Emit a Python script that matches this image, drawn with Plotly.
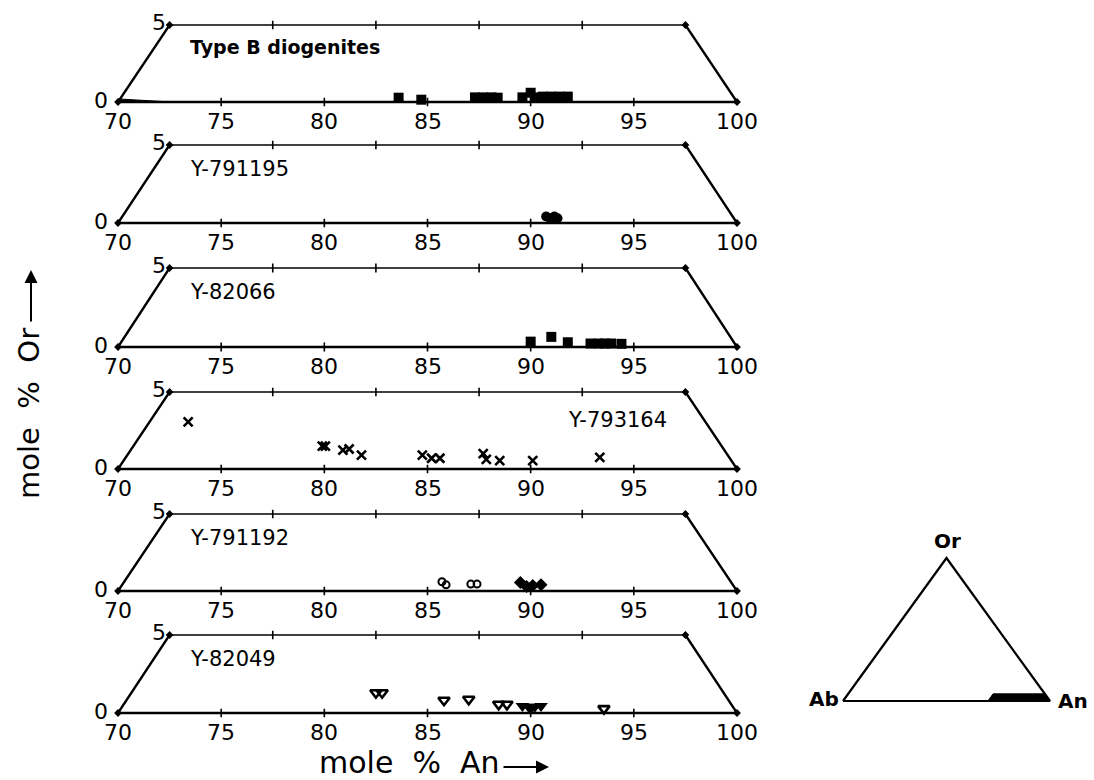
import plotly.graph_objects as go

W, H = 1094, 780
FONT = "DejaVu Sans"

# Axis tick values (mole % An along the base, mole % Or up the side)
an_ticks = [70, 75, 80, 85, 90, 95, 100]
top_ticks = [77.5, 82.5, 87.5, 92.5]
or_labels = [0, 5]

# Outline of the An-rich corner of the Ab-An-Or triangle (horizontal position, Or)
frame_an = [70, 72.5, 97.5, 100, 70]
frame_or = [0, 5, 5, 0, 0]

panel_names = ["Type B diogenites", "Y-791195", "Y-82066", "Y-793164", "Y-791192", "Y-82049"]

# Type B diogenites (filled squares)
typeB_an = [83.6, 84.7, 87.3, 87.7, 88.1, 88.4, 89.6, 90.0, 90.2, 90.6, 91.0, 91.4, 91.8]
typeB_or = [0.28, 0.15, 0.30, 0.30, 0.30, 0.28, 0.30, 0.60, 0.30, 0.35, 0.35, 0.35, 0.35]
typeB_wedge_an = [70, 72.6, 70, 70]
typeB_wedge_or = [0, 0, 0.2, 0]

# Y-791195 (filled circles)
y791195_an = [90.75, 91.15, 90.95, 91.3]
y791195_or = [0.42, 0.42, 0.30, 0.30]

# Y-82066 (filled squares)
y82066_an = [90.0, 91.0, 91.8, 92.9, 93.3, 93.6, 93.9, 94.4]
y82066_or = [0.34, 0.64, 0.30, 0.22, 0.22, 0.22, 0.22, 0.20]

# Y-793164 (crosses)
y793164_an = [73.4, 79.9, 80.05, 80.9, 81.2, 81.8, 84.75, 85.2, 85.6, 87.7, 87.85, 88.5, 90.1, 93.35]
y793164_or = [3.06, 1.49, 1.49, 1.23, 1.30, 0.90, 0.90, 0.70, 0.70, 1.00, 0.63, 0.54, 0.54, 0.75]

# Y-791192 (open circles and filled diamonds)
y791192_open_an = [85.7, 85.9, 87.1, 87.4]
y791192_open_or = [0.60, 0.40, 0.45, 0.45]
y791192_fill_an = [89.5, 89.8, 90.1, 90.5]
y791192_fill_or = [0.55, 0.30, 0.35, 0.40]

# Y-82049 (inverted triangles)
y82049_open_an = [82.5, 82.8, 85.8, 87.0, 88.45, 88.85, 93.55]
y82049_open_or = [1.30, 1.30, 0.82, 0.88, 0.56, 0.56, 0.28]
y82049_fill_an = [89.6, 89.9, 90.2, 90.5, 90.0]
y82049_fill_or = [0.45, 0.40, 0.40, 0.45, 0.25]

# Panel placement in pixels: (top edge of frame, bottom edge of frame)
panel_px = [(25, 102), (145, 223), (268, 347), (392, 469), (514, 591), (635, 713)]
x70_px, x100_px = 118, 737

fig = go.Figure()
annotations = []
layout_axes = {}

xr = (68, 102)
yr = (-0.6, 5.6)
px_per_an = (x100_px - x70_px) / 30.0
xdom = ((x70_px - (70 - xr[0]) * px_per_an) / W, (x100_px + (xr[1] - 100) * px_per_an) / W)


def seg(vals, lo, hi):
    xs, ys = [], []
    for v in vals:
        xs += [v, v, None]
        ys += [lo, hi, None]
    return xs, ys


series = [
    [dict(x=typeB_an, y=typeB_or, symbol="square", size=10, color="black")],
    [dict(x=y791195_an, y=y791195_or, symbol="circle", size=10, color="black")],
    [dict(x=y82066_an, y=y82066_or, symbol="square", size=10, color="black")],
    [dict(x=y793164_an, y=y793164_or, symbol="x-thin-open", size=9, color="black", lw=2.6)],
    [dict(x=y791192_open_an, y=y791192_open_or, symbol="circle-open", size=7, color="black", lw=2),
     dict(x=y791192_fill_an, y=y791192_fill_or, symbol="diamond", size=10, color="black")],
    [dict(x=y82049_open_an, y=y82049_open_or, symbol="triangle-down-open", size=10, color="black", lw=2.6),
     dict(x=y82049_fill_an, y=y82049_fill_or, symbol="triangle-down", size=12, color="black")],
]

for i, (top, bot) in enumerate(panel_px):
    n = i + 1
    xa = "x" if n == 1 else f"x{n}"
    ya = "y" if n == 1 else f"y{n}"
    k = (bot - top) / 5.0
    y_lo_px = bot + (0 - yr[0]) * k
    y_hi_px = top - (yr[1] - 5) * k
    layout_axes["xaxis" if n == 1 else f"xaxis{n}"] = dict(
        domain=list(xdom), range=list(xr), visible=False, anchor=ya, fixedrange=True)
    layout_axes["yaxis" if n == 1 else f"yaxis{n}"] = dict(
        domain=[1 - y_lo_px / H, 1 - y_hi_px / H], range=list(yr), visible=False, anchor=xa,
        fixedrange=True)

    # frame: sides and base, then the thinner top edge
    fig.add_trace(go.Scatter(x=[frame_an[1], frame_an[0], frame_an[3], frame_an[2]],
                             y=[frame_or[1], frame_or[0], frame_or[3], frame_or[2]],
                             mode="lines", line=dict(color="black", width=2.3),
                             xaxis=xa, yaxis=ya, hoverinfo="skip"))
    fig.add_trace(go.Scatter(x=frame_an[1:3], y=frame_or[1:3], mode="lines",
                             line=dict(color="black", width=1.7),
                             xaxis=xa, yaxis=ya, hoverinfo="skip"))
    # tick marks on base and top edge
    bx, by = seg(an_ticks[1:-1], -0.28, 0.28)
    tx, ty = seg(top_ticks, 4.72, 5.28)
    fig.add_trace(go.Scatter(x=bx + tx, y=by + ty, mode="lines",
                             line=dict(color="black", width=1.6),
                             xaxis=xa, yaxis=ya, hoverinfo="skip"))
    # corner dots
    fig.add_trace(go.Scatter(x=frame_an[:4], y=frame_or[:4], mode="markers",
                             marker=dict(symbol="diamond", size=6, color="black"),
                             xaxis=xa, yaxis=ya, cliponaxis=False, hoverinfo="skip"))
    if n == 1:
        fig.add_trace(go.Scatter(x=typeB_wedge_an, y=typeB_wedge_or, mode="lines",
                                 fill="toself", fillcolor="black",
                                 line=dict(color="black", width=1),
                                 xaxis=xa, yaxis=ya, hoverinfo="skip"))
    for s in series[i]:
        mk = dict(symbol=s["symbol"], size=s["size"], color=s["color"])
        if "lw" in s:
            mk["line"] = dict(color="black", width=s["lw"])
        fig.add_trace(go.Scatter(x=s["x"], y=s["y"], mode="markers", marker=mk,
                                 xaxis=xa, yaxis=ya, cliponaxis=False))

    # tick labels
    for v in an_ticks:
        annotations.append(dict(x=v, y=0, xref=xa, yref=ya, text=str(v), showarrow=False,
                                xanchor="center", yanchor="middle", yshift=-19,
                                font=dict(family=FONT, size=22, color="black")))
    annotations.append(dict(x=70, y=or_labels[0], xref=xa, yref=ya, text=str(or_labels[0]),
                            showarrow=False, xanchor="right", yanchor="middle",
                            xshift=-8, yshift=2, font=dict(family=FONT, size=22, color="black")))
    annotations.append(dict(x=72.5, y=or_labels[1], xref=xa, yref=ya, text=str(or_labels[1]),
                            showarrow=False, xanchor="right", yanchor="middle",
                            xshift=-2, yshift=3, font=dict(family=FONT, size=22, color="black")))
    # sample name
    if n == 1:
        annotations.append(dict(x=73.4, y=3.55, xref=xa, yref=ya, text="<b>" + panel_names[i] + "</b>",
                                showarrow=False, xanchor="left", yanchor="middle",
                                font=dict(family=FONT, size=19, color="black")))
    elif n == 4:
        annotations.append(dict(x=96.7, y=3.2, xref=xa, yref=ya, text=panel_names[i],
                                showarrow=False, xanchor="right", yanchor="middle",
                                font=dict(family=FONT, size=21, color="black")))
    else:
        annotations.append(dict(x=73.4, y=3.45, xref=xa, yref=ya, text=panel_names[i],
                                showarrow=False, xanchor="left", yanchor="middle",
                                font=dict(family=FONT, size=21, color="black")))

# Inset: full Ab-An-Or triangle with the An-rich region filled
tri_x = [0, 50, 100, 0]
tri_y = [0, 100, 0, 0]
ab_px, an_px, base_px, apex_px = 843, 1050, 701, 558
sx = (an_px - ab_px) / 100.0
sy = (base_px - apex_px) / 100.0
layout_axes["xaxis7"] = dict(domain=[(ab_px - 5 * sx) / W, (an_px + 5 * sx) / W], range=[-5, 105],
                             visible=False, anchor="y7", fixedrange=True)
layout_axes["yaxis7"] = dict(domain=[1 - (base_px + 5 * sy) / H, 1 - (apex_px - 5 * sy) / H],
                             range=[-5, 105], visible=False, anchor="x7", fixedrange=True)
fig.add_trace(go.Scatter(x=tri_x, y=tri_y, mode="lines", line=dict(color="black", width=2.2),
                         xaxis="x7", yaxis="y7", hoverinfo="skip"))
fig.add_trace(go.Scatter(x=frame_an, y=frame_or, mode="lines", fill="toself", fillcolor="black",
                         line=dict(color="black", width=1), xaxis="x7", yaxis="y7",
                         hoverinfo="skip"))
for txt, x, y, xa_, ya_, xs, ys in [("Or", 50, 100, "center", "bottom", 1, 3),
                                     ("Ab", 0, 0, "right", "middle", -2, 2),
                                     ("An", 100, 0, "left", "middle", 6, 0)]:
    annotations.append(dict(x=x, y=y, xref="x7", yref="y7", text="<b>" + txt + "</b>",
                            showarrow=False, xanchor=xa_, yanchor=ya_, xshift=xs, yshift=ys,
                            font=dict(family=FONT, size=20, color="black")))

# Axis titles with arrows
annotations.append(dict(x=409 / W, y=1 - 762 / H, xref="paper", yref="paper",
                        text="mole\u00a0\u00a0%\u00a0\u00a0An",
                        showarrow=False, xanchor="center", yanchor="middle",
                        font=dict(family=FONT, size=30, color="black")))
annotations.append(dict(x=549 / W, y=1 - 767 / H, xref="paper", yref="paper", text="",
                        showarrow=True, arrowhead=2, arrowsize=1.3, arrowwidth=2,
                        arrowcolor="black", ax=-47, ay=0))
annotations.append(dict(x=29 / W, y=1 - 414 / H, xref="paper", yref="paper",
                        text="mole\u00a0\u00a0%\u00a0\u00a0Or",
                        showarrow=False, xanchor="center", yanchor="middle", textangle=-90,
                        font=dict(family=FONT, size=29, color="black")))
annotations.append(dict(x=31 / W, y=1 - 270 / H, xref="paper", yref="paper", text="",
                        showarrow=True, arrowhead=2, arrowsize=1.3, arrowwidth=2,
                        arrowcolor="black", ax=0, ay=53))

fig.update_layout(
    width=W, height=H, margin=dict(l=0, r=0, t=0, b=0),
    paper_bgcolor="white", plot_bgcolor="white", showlegend=False,
    annotations=annotations, **layout_axes)

fig.write_html("out.html")
